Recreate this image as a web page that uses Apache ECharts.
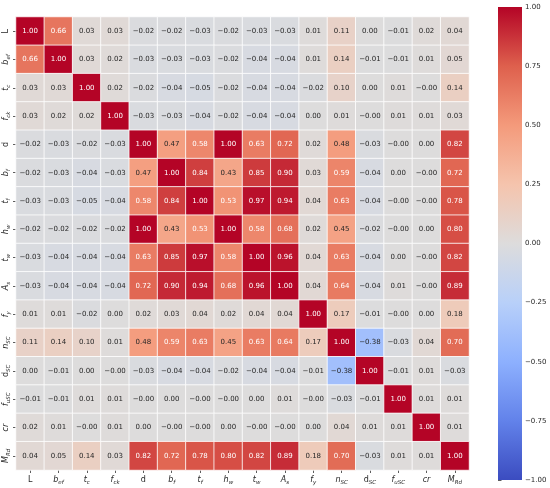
<!DOCTYPE html>
<html>
<head>
<meta charset="utf-8">
<script src="https://cdn.jsdelivr.net/npm/echarts@6/dist/echarts.min.js"></script>
<style>
html,body{margin:0;padding:0;background:#fff;}
#chart{width:550px;height:488px;}
</style>
</head>
<body>
<div id="chart"></div>
<script>
// Variable names (row/column order)
const variables = ['L','b_ef','t_c','f_ck','d','b_f','t_f','h_w','t_w','A_s','f_y','n_SC','d_SC','f_uSC','cr','M_Rd'];

// Correlation matrix rows (-0.001 stands for a displayed "-0.00")
const rowL    = [1.00, 0.66, 0.03, 0.03, -0.02, -0.02, -0.03, -0.02, -0.03, -0.03, 0.01, 0.11, 0.00, -0.01, 0.02, 0.04];
const rowBef  = [0.66, 1.00, 0.03, 0.02, -0.03, -0.03, -0.03, -0.02, -0.04, -0.04, 0.01, 0.14, -0.01, -0.01, 0.01, 0.05];
const rowTc   = [0.03, 0.03, 1.00, 0.02, -0.02, -0.04, -0.05, -0.02, -0.04, -0.04, -0.02, 0.10, 0.00, 0.01, -0.001, 0.14];
const rowFck  = [0.03, 0.02, 0.02, 1.00, -0.03, -0.03, -0.04, -0.02, -0.04, -0.04, 0.00, 0.01, -0.001, 0.01, 0.01, 0.03];
const rowD    = [-0.02, -0.03, -0.02, -0.03, 1.00, 0.47, 0.58, 1.00, 0.63, 0.72, 0.02, 0.48, -0.03, -0.001, 0.00, 0.82];
const rowBf   = [-0.02, -0.03, -0.04, -0.03, 0.47, 1.00, 0.84, 0.43, 0.85, 0.90, 0.03, 0.59, -0.04, 0.00, -0.001, 0.72];
const rowTf   = [-0.03, -0.03, -0.05, -0.04, 0.58, 0.84, 1.00, 0.53, 0.97, 0.94, 0.04, 0.63, -0.04, -0.001, -0.001, 0.78];
const rowHw   = [-0.02, -0.02, -0.02, -0.02, 1.00, 0.43, 0.53, 1.00, 0.58, 0.68, 0.02, 0.45, -0.02, -0.001, 0.00, 0.80];
const rowTw   = [-0.03, -0.04, -0.04, -0.04, 0.63, 0.85, 0.97, 0.58, 1.00, 0.96, 0.04, 0.63, -0.04, 0.00, -0.001, 0.82];
const rowAs   = [-0.03, -0.04, -0.04, -0.04, 0.72, 0.90, 0.94, 0.68, 0.96, 1.00, 0.04, 0.64, -0.04, 0.01, -0.001, 0.89];
const rowFy   = [0.01, 0.01, -0.02, 0.00, 0.02, 0.03, 0.04, 0.02, 0.04, 0.04, 1.00, 0.17, -0.01, -0.001, 0.00, 0.18];
const rowNsc  = [0.11, 0.14, 0.10, 0.01, 0.48, 0.59, 0.63, 0.45, 0.63, 0.64, 0.17, 1.00, -0.38, -0.03, 0.04, 0.70];
const rowDsc  = [0.00, -0.01, 0.00, -0.001, -0.03, -0.04, -0.04, -0.02, -0.04, -0.04, -0.01, -0.38, 1.00, -0.01, 0.01, -0.03];
const rowFusc = [-0.01, -0.01, 0.01, 0.01, -0.001, 0.00, -0.001, -0.001, 0.00, 0.01, -0.001, -0.03, -0.01, 1.00, 0.01, 0.01];
const rowCr   = [0.02, 0.01, -0.001, 0.01, 0.00, -0.001, -0.001, 0.00, -0.001, -0.001, 0.00, 0.04, 0.01, 0.01, 1.00, 0.01];
const rowMrd  = [0.04, 0.05, 0.14, 0.03, 0.82, 0.72, 0.78, 0.80, 0.82, 0.89, 0.18, 0.70, -0.03, 0.01, 0.01, 1.00];

const matrixRows = [rowL,rowBef,rowTc,rowFck,rowD,rowBf,rowTf,rowHw,rowTw,rowAs,rowFy,rowNsc,rowDsc,rowFusc,rowCr,rowMrd];

// Colour bar range and tick step
const colorbarRange = [-1, 1];
const colorbarStep = 0.25;

// coolwarm colormap stops
const coolwarm = ['#3b4cc0','#6282ea','#8db0fe','#b8d0f9','#dddcdc','#f5c4ad','#f49a7b','#de604d','#b40426'];

// Rich-text label markup
const labelMarkup = {
  L:'{r|L}', b_ef:'{i|b}{s|ef}', t_c:'{i|t}{s|c}', f_ck:'{i|f}{s|ck}', d:'{r|d}',
  b_f:'{i|b}{s|f}', t_f:'{i|t}{s|f}', h_w:'{i|h}{s|w}', t_w:'{i|t}{s|w}', A_s:'{i|A}{s|s}',
  f_y:'{i|f}{s|y}', n_SC:'{i|n}{s|SC}', d_SC:'{r|d}{s|SC}', f_uSC:'{i|f}{s|uSC}', cr:'{i|cr}', M_Rd:'{i|M}{s|Rd}'
};
const FONT = 'DejaVu Sans';
const TXT = '#262626';
const rich = {
  r:{fontFamily:FONT, fontSize:8, color:TXT, lineHeight:12},
  i:{fontFamily:FONT, fontSize:8, fontStyle:'italic', color:TXT, lineHeight:12},
  s:{fontFamily:FONT, fontSize:5.5, fontStyle:'italic', color:TXT, lineHeight:6, verticalAlign:'bottom'}
};

function fmt(v){ return v.toFixed(2).replace('-', '\u2212'); }

const heatData = [];
matrixRows.forEach((row, yi) => {
  row.forEach((v, xi) => {
    heatData.push({
      value:[xi, yi, v],
      label:{color: v > 0.5 ? '#ffffff' : TXT}
    });
  });
});

const chart = echarts.init(document.getElementById('chart'), null, {renderer:'canvas'});

const option = {
  backgroundColor:'#ffffff',
  animation:false,
  grid:[
    {left:16, top:17, width:453, height:453},
    {left:498, top:7, width:24, height:473}
  ],
  xAxis:[
    {
      type:'category', gridIndex:0, data:variables, position:'bottom',
      axisLine:{show:false}, splitLine:{show:false},
      axisTick:{show:true, alignWithLabel:true, length:3, lineStyle:{color:'#333', width:0.8}},
      axisLabel:{margin:4, interval:0, formatter:(v)=>labelMarkup[v], rich:rich}
    },
    {type:'value', gridIndex:1, min:0, max:1, show:false}
  ],
  yAxis:[
    {
      type:'category', gridIndex:0, data:variables, inverse:true,
      axisLine:{show:false}, splitLine:{show:false},
      axisTick:{show:true, alignWithLabel:true, length:3, lineStyle:{color:'#333', width:0.8}},
      axisLabel:{margin:4, interval:0, rotate:90, formatter:(v)=>labelMarkup[v], rich:rich}
    },
    {
      type:'value', gridIndex:1, min:colorbarRange[0], max:colorbarRange[1], interval:colorbarStep,
      position:'right', axisLine:{show:false}, splitLine:{show:false},
      axisTick:{show:true, length:3.5, lineStyle:{color:'#333', width:0.8}},
      axisLabel:{margin:3, fontFamily:FONT, fontSize:7, color:TXT, formatter:(v)=>fmt(v)}
    }
  ],
  visualMap:{
    show:false, type:'continuous', min:colorbarRange[0], max:colorbarRange[1],
    seriesIndex:0, dimension:2, inRange:{color:coolwarm}
  },
  series:[
    {
      type:'heatmap', xAxisIndex:0, yAxisIndex:0, data:heatData,
      itemStyle:{borderColor:'#ffffff', borderWidth:0.8},
      label:{show:true, fontFamily:FONT, fontSize:7, formatter:(p)=>fmt(p.value[2])},
      emphasis:{disabled:true}
    },
    {
      type:'custom', xAxisIndex:1, yAxisIndex:1, data:[[0, colorbarRange[0], 1, colorbarRange[1]]],
      clip:false,
      renderItem:function(params, api){
        const tl = api.coord([api.value(0), api.value(3)]);
        const br = api.coord([api.value(2), api.value(1)]);
        const stops = coolwarm.slice().reverse().map((c,i)=>({offset:i/(coolwarm.length-1), color:c}));
        return {
          type:'rect',
          shape:{x:tl[0], y:tl[1], width:br[0]-tl[0], height:br[1]-tl[1]},
          style:{fill:new echarts.graphic.LinearGradient(0,0,0,1,stops)}
        };
      }
    }
  ]
};
chart.setOption(option);
</script>
</body>
</html>
